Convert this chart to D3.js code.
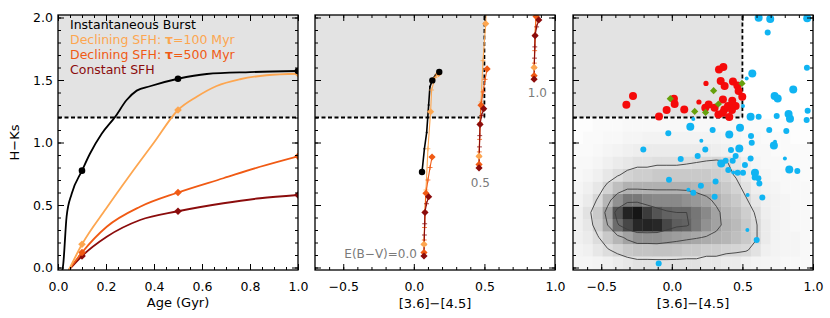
<!DOCTYPE html>
<html>
<head>
<meta charset="utf-8">
<script src="https://cdn.jsdelivr.net/npm/d3@7"></script>
<style>
  body { margin: 0; background: #fff; }
  text { font-family: "DejaVu Sans", sans-serif; }
</style>
</head>
<body>
<div id="chart"></div>
<script>
// ---------------- data ----------------
var ageTicks = [0, 0.2, 0.4, 0.6, 0.8, 1.0];
var colourTicks = [-0.5, 0, 0.5, 1.0];
var hkTicks = [0, 0.5, 1.0, 1.5, 2.0];

var hkCut = 1.2;
var colourCut = 0.5;

var modelNames = ["Instantaneous Burst", "Declining SFH: τ=100 Myr", "Declining SFH: τ=500 Myr", "Constant SFH"];
var modelColours = ["#000000", "#fda650", "#f05a14", "#8b0c0c"];
var markerAges = [0.1, 0.5, 1.0];

// panel 1: H-Ks against age (Gyr)
var burstAge = [0.018, 0.022, 0.036, 0.057, 0.1, 0.133, 0.182, 0.238, 0.286, 0.328, 0.383, 0.5, 0.62, 0.8, 1.0];
var burstHK  = [-0.03, 0.03, 0.41, 0.59, 0.775, 0.91, 1.07, 1.205, 1.34, 1.415, 1.45, 1.51, 1.548, 1.563, 1.572];
var tau100Age = [0.045, 0.1, 0.2, 0.3, 0.4, 0.5, 0.578, 0.661, 0.758, 0.869, 1.0];
var tau100HK  = [-0.02, 0.186, 0.47, 0.74, 1.0, 1.26, 1.366, 1.452, 1.506, 1.538, 1.55];
var tau500Age = [0.045, 0.1, 0.203, 0.342, 0.5, 0.689, 0.842, 1.0];
var tau500HK  = [-0.02, 0.12, 0.326, 0.486, 0.60, 0.714, 0.806, 0.89];
var constAge = [0.045, 0.1, 0.203, 0.342, 0.5, 0.689, 0.842, 1.0];
var constHK  = [-0.02, 0.092, 0.246, 0.38, 0.45, 0.514, 0.554, 0.58];

// panel 2: tracks in [3.6]-[4.5] vs H-Ks at E(B-V)=0 (marks = 0.1, 0.5, 1.0 Gyr)
var burstCol   = [0.058, 0.075, 0.091, 0.105, 0.114, 0.131, 0.150, 0.180];
var burstColHK = [0.764, 0.95, 1.08, 1.30, 1.446, 1.497, 1.535, 1.564];
var burstMarks = [0, 5, 7];
var tau100Col   = [0.072, 0.078, 0.086, 0.100, 0.119, 0.126, 0.150, 0.175];
var tau100ColHK = [0.186, 0.45, 0.62, 0.95, 1.246, 1.42, 1.52, 1.55];
var tau100Marks = [0, 4, 7];
var tau500Col   = [0.072, 0.074, 0.076, 0.080, 0.086, 0.100, 0.115, 0.129];
var tau500ColHK = [0.12, 0.22, 0.32, 0.45, 0.594, 0.70, 0.80, 0.884];
var tau500Marks = [0, 4, 7];
var constCol   = [0.072, 0.073, 0.075, 0.077, 0.079, 0.090, 0.105];
var constColHK = [0.092, 0.18, 0.26, 0.35, 0.44, 0.51, 0.566];
var constMarks = [0, 4, 6];

// reddened copies of the SFH tracks
var ebvValues   = [0.0, 0.5, 1.0];
var ebvShiftCol = [0, 0.39, 0.78];
var ebvShiftHK  = [0, 0.705, 1.415];
var ebvLabels   = ["E(B−V)=0.0", "0.5", "1.0"];
var ebvLabelCol = [0.022, 0.539, 0.943];
var ebvLabelHK  = [0.076, 0.642, 1.362];

// panel 3: observed sources
var redCol  = [-0.322, -0.275, -0.091, -0.037, 0.015, 0.020, 0.088, 0.192, 0.242, 0.237, 0.261, 0.303, 0.334, 0.365, 0.346, 0.374, 0.330, 0.362, 0.372, 0.398, 0.428, 0.433, 0.407, 0.452, 0.464, 0.473, 0.499, 0.362, 0.426, 0.430];
var redHK   = [1.303, 1.372, 1.209, 1.26, 1.351, 1.308, 1.265, 1.324, 1.473, 1.279, 1.305, 1.279, 1.585, 1.604, 1.492, 1.452, 1.225, 1.345, 1.265, 1.292, 1.335, 1.489, 1.204, 1.292, 1.457, 1.412, 1.367, 1.239, 1.26, 1.305];
var redSize = [2, 2, 2, 2, 2, 2, 2, 1, 1, 2, 2, 2, 2, 2, 2, 2, 2, 2, 2, 2, 2, 2, 2, 2, 2, 2, 2, 2, 2, 2];

var greenCol = [-0.011, 0.162, 0.239, 0.296, 0.330, 0.497];
var greenHK  = [1.351, 1.249, 1.241, 1.415, 1.308, 1.473];

var blueCol  = [0.615, 0.697, 0.959, 0.679, 0.957, 0.570, 0.530, 0.860, 0.728, 0.750, 0.962, 0.827, 0.837, 0.955, 0.743, 0.615, 0.558, 0.504, 0.152, 0.131, -0.025, 0.289, 0.407, 0.483, 0.690, 0.811, 0.561, 0.209, 0.566, 0.723, 0.731, -0.202, 0.237, 0.419, 0.478, 0.183, 0.452, 0.558, 0.063, 0.350, 0.381, 0.431, 0.518, 0.589, 0.613, 0.620, 0.641, 0.400, 0.435, 0.466, 0.504, 0.310, 0.206, 0.117, 0.152, -0.020, 0.303, 0.537, 0.535, 0.601, -0.093, 0.832, 0.889, 0.801, 0.587];
var blueHK   = [1.998, 1.988, 1.994, 1.881, 1.599, 1.553, 1.513, 1.425, 1.372, 1.353, 1.255, 1.228, 1.191, 1.18, 1.212, 1.207, 1.207, 1.292, 1.189, 1.127, 1.074, 1.1, 1.065, 1.119, 1.1, 1.092, 1.052, 1.015, 0.999, 0.977, 1.007, 0.945, 0.945, 0.94, 0.953, 0.892, 0.892, 0.873, 0.868, 0.833, 0.855, 0.855, 0.82, 0.759, 0.714, 0.673, 0.561, 0.78, 0.761, 0.759, 0.759, 0.689, 0.655, 0.623, 0.599, 0.703, 0.567, 0.58, 0.3, 0.22, 0.033, 0.785, 0.772, 0.873, 0.72];
var blueSize = [3, 3, 3, 2, 2, 3, 1, 3, 3, 3, 2, 3, 3, 2, 2, 2, 3, 1, 1, 3, 2, 2, 3, 3, 2, 2, 2, 1, 2, 3, 1, 2, 2, 2, 3, 2, 2, 2, 2, 3, 2, 2, 2, 3, 2, 2, 2, 2, 1, 2, 2, 2, 2, 1, 2, 2, 2, 1, 1, 2, 2, 3, 2, 1, 2];

// panel 3: background source density (rows from H-Ks=-0.01 upward in 0.1 bins, columns from -0.7 in 0.07 bins)
var heatColStart = -0.7, heatColStep = 0.07;
var heatHKStart = -0.01, heatHKStep = 0.1;
var heatRows = [
  [4, 4, 5, 6, 8, 10, 12, 12, 12, 12, 12, 12, 12, 10, 10, 8, 8, 6, 5, 4, 4, 3, 3, 3],
  [5, 6, 10, 14, 18, 22, 24, 24, 25, 25, 24, 22, 22, 20, 20, 18, 17, 16, 12, 6, 5, 4, 4, 3],
  [6, 8, 14, 22, 30, 38, 45, 45, 45, 42, 40, 38, 36, 34, 32, 30, 26, 22, 16, 8, 5, 4, 4, 3],
  [6, 10, 20, 35, 60, 75, 88, 90, 88, 75, 66, 64, 55, 45, 38, 32, 28, 22, 16, 8, 5, 4, 3, 3],
  [6, 12, 22, 40, 70, 90, 95, 80, 70, 64, 62, 62, 56, 48, 38, 30, 26, 20, 14, 7, 5, 4, 3, 3],
  [5, 8, 16, 30, 45, 55, 55, 50, 48, 48, 48, 45, 42, 38, 32, 26, 22, 16, 10, 6, 5, 4, 3, 3],
  [4, 6, 10, 18, 26, 32, 32, 32, 32, 32, 32, 32, 30, 28, 26, 22, 18, 12, 7, 5, 4, 3, 3, 3],
  [3, 4, 6, 10, 14, 18, 20, 20, 22, 22, 22, 22, 22, 22, 20, 18, 14, 8, 5, 4, 3, 3, 3, 2],
  [3, 3, 4, 6, 8, 10, 12, 12, 13, 13, 13, 14, 15, 16, 17, 16, 10, 6, 4, 3, 3, 2, 2, 2],
  [2, 2, 3, 4, 5, 6, 7, 8, 8, 8, 8, 8, 8, 8, 7, 6, 5, 4, 3, 3, 2, 2, 2, 2],
  [1, 2, 2, 3, 3, 4, 4, 5, 5, 5, 5, 5, 5, 5, 5, 4, 4, 3, 3, 2, 2, 2, 1, 1],
  [1, 1, 2, 2, 2, 3, 3, 3, 3, 3, 3, 3, 3, 3, 3, 3, 3, 2, 2, 2, 1, 1, 1, 1]
];
var contourLevels = [15, 35, 62];

// ---------------- layout ----------------
var svgWidth = 830, svgHeight = 318;
var panelLeft = [58, 315, 573];
var panelWidth = 240;
var plotTop = 15, plotBottom = 270;

var svg = d3.select("#chart").append("svg")
  .attr("width", svgWidth)
  .attr("height", svgHeight);

var y = d3.scaleLinear().domain([-0.02, 2.02]).range([plotBottom, plotTop]);
var xAge = d3.scaleLinear().domain([0, 1]).range([panelLeft[0], panelLeft[0] + panelWidth]);
var xCol2 = d3.scaleLinear().domain([-0.7, 1.0]).range([panelLeft[1], panelLeft[1] + panelWidth]);
var xCol3 = d3.scaleLinear().domain([-0.7, 1.0]).range([panelLeft[2], panelLeft[2] + panelWidth]);

var fmt = d3.format(".1f");
var fontSize = 12.5;

function diamond(r) {
  return "M0," + (-r) + "L" + r + ",0L0," + r + "L" + (-r) + ",0Z";
}

// clip each panel
panelLeft.forEach(function(px, i) {
  svg.append("clipPath").attr("id", "clip" + i)
    .append("rect").attr("x", px).attr("y", plotTop).attr("width", panelWidth).attr("height", plotBottom - plotTop);
});

// shaded selection box + dashed cut
function drawCut(g, xs, fullWidth) {
  var xRight = fullWidth ? xs.range()[1] : xs(colourCut);
  g.append("rect")
    .attr("x", xs.range()[0]).attr("y", plotTop)
    .attr("width", xRight - xs.range()[0]).attr("height", y(hkCut) - plotTop)
    .attr("fill", "#e3e3e3");
}
function drawCutLines(g, xs, fullWidth) {
  var xRight = fullWidth ? xs.range()[1] : xs(colourCut);
  g.append("line")
    .attr("x1", xs.range()[0]).attr("x2", xRight)
    .attr("y1", y(hkCut)).attr("y2", y(hkCut))
    .attr("stroke", "#000").attr("stroke-width", 1.8).attr("stroke-dasharray", "4,2.5");
  if (!fullWidth) {
    g.append("line")
      .attr("x1", xRight).attr("x2", xRight)
      .attr("y1", y(hkCut)).attr("y2", plotTop)
      .attr("stroke", "#000").attr("stroke-width", 1.8).attr("stroke-dasharray", "4,2.5");
  }
}

// frame with inward ticks on all four sides
function drawFrame(xs, xMajor, xMinor, showY) {
  var g = svg.append("g");
  var yMinor = d3.range(0, 2.001, 0.1);
  function style(sel) {
    sel.select(".domain").remove();
    sel.selectAll(".tick line").attr("stroke", "#000").attr("stroke-width", 1);
    sel.selectAll("text").attr("font-family", "DejaVu Sans, sans-serif").attr("font-size", fontSize).attr("fill", "#000");
  }
  g.append("g").attr("transform", "translate(0," + plotBottom + ")")
    .call(d3.axisBottom(xs).tickValues(xMinor).tickSize(-3).tickFormat("")).call(style);
  g.append("g").attr("transform", "translate(0," + plotBottom + ")")
    .call(d3.axisBottom(xs).tickValues(xMajor).tickSize(-6).tickPadding(12).tickFormat(fmt)).call(style);
  g.append("g").attr("transform", "translate(0," + plotTop + ")")
    .call(d3.axisTop(xs).tickValues(xMinor).tickSize(-3).tickFormat("")).call(style);
  g.append("g").attr("transform", "translate(0," + plotTop + ")")
    .call(d3.axisTop(xs).tickValues(xMajor).tickSize(-6).tickFormat("")).call(style);
  var x0 = xs.range()[0], x1 = xs.range()[1];
  g.append("g").attr("transform", "translate(" + x0 + ",0)")
    .call(d3.axisLeft(y).tickValues(yMinor).tickSize(-3).tickFormat("")).call(style);
  g.append("g").attr("transform", "translate(" + x0 + ",0)")
    .call(d3.axisLeft(y).tickValues(hkTicks).tickSize(-6).tickPadding(5).tickFormat(showY ? fmt : "")).call(style);
  g.append("g").attr("transform", "translate(" + x1 + ",0)")
    .call(d3.axisRight(y).tickValues(yMinor).tickSize(-3).tickFormat("")).call(style);
  g.append("g").attr("transform", "translate(" + x1 + ",0)")
    .call(d3.axisRight(y).tickValues(hkTicks).tickSize(-6).tickFormat("")).call(style);
  g.append("rect")
    .attr("x", x0).attr("y", plotTop).attr("width", x1 - x0).attr("height", plotBottom - plotTop)
    .attr("fill", "none").attr("stroke", "#000").attr("stroke-width", 1.3);
}

// ---------------- panel 1 ----------------
var p1 = svg.append("g").attr("clip-path", "url(#clip0)");
drawCut(p1, xAge, true);
drawCutLines(p1, xAge, true);

var ageModels = [
  { age: burstAge, hk: burstHK, colour: modelColours[0] },
  { age: tau100Age, hk: tau100HK, colour: modelColours[1] },
  { age: tau500Age, hk: tau500HK, colour: modelColours[2] },
  { age: constAge, hk: constHK, colour: modelColours[3] }
];
var ageLine = d3.line().curve(d3.curveMonotoneX)
  .x(d => xAge(d[0])).y(d => y(d[1]));

// draw back to front: constant, tau500, tau100, burst
[3, 2, 1, 0].forEach(function(i) {
  var m = ageModels[i];
  var pts = m.age.map((a, k) => [a, m.hk[k]]);
  p1.append("path").datum(pts)
    .attr("d", ageLine)
    .attr("fill", "none").attr("stroke", m.colour).attr("stroke-width", 1.8);
  var marks = pts.filter(p => markerAges.indexOf(p[0]) >= 0);
  if (i === 0) {
    p1.selectAll(null).data(marks).enter().append("circle")
      .attr("cx", d => xAge(d[0])).attr("cy", d => y(d[1])).attr("r", 3.3)
      .attr("fill", m.colour);
  } else {
    p1.selectAll(null).data(marks).enter().append("path")
      .attr("transform", d => "translate(" + xAge(d[0]) + "," + y(d[1]) + ")")
      .attr("d", diamond(3.8)).attr("fill", m.colour);
  }
});

// legend
var legend = svg.append("g");
modelNames.forEach(function(name, i) {
  var t = legend.append("text")
    .attr("x", 70).attr("y", 29 + i * 15)
    .attr("font-size", 12.5).attr("fill", modelColours[i]);
  var parts = name.split("τ");
  t.append("tspan").text(parts[0]);
  if (parts.length > 1) {
    t.append("tspan").attr("font-weight", "bold").text("τ");
    t.append("tspan").text(parts[1]);
  }
});

drawFrame(xAge, ageTicks, d3.range(0, 1.001, 0.05), true);

// ---------------- panel 2 ----------------
var p2 = svg.append("g").attr("clip-path", "url(#clip1)");
drawCut(p2, xCol2, false);
drawCutLines(p2, xCol2, false);

var colTracks = [
  { col: burstCol, hk: burstColHK, marks: burstMarks, colour: modelColours[0] },
  { col: tau100Col, hk: tau100ColHK, marks: tau100Marks, colour: modelColours[1] },
  { col: tau500Col, hk: tau500ColHK, marks: tau500Marks, colour: modelColours[2] },
  { col: constCol, hk: constColHK, marks: constMarks, colour: modelColours[3] }
];
var colLine2 = d3.line().x(d => xCol2(d[0])).y(d => y(d[1]));
var plus = d3.symbol().type(d3.symbolPlus).size(9);

ebvValues.forEach(function(ebv, e) {
  [0, 1, 2, 3].forEach(function(i) {
    if (i === 0 && e > 0) return;   // burst track only shown unreddened
    var t = colTracks[i];
    var pts = t.col.map((c, k) => [c + ebvShiftCol[e], t.hk[k] + ebvShiftHK[e]]);
    p2.append("path").datum(pts)
      .attr("d", colLine2)
      .attr("fill", "none").attr("stroke", t.colour).attr("stroke-width", i === 0 ? 1.6 : 1.1);
    var inner = pts.filter((p, k) => t.marks.indexOf(k) < 0);
    if (i === 0) {
      p2.selectAll(null).data(inner).enter().append("circle")
        .attr("cx", d => xCol2(d[0])).attr("cy", d => y(d[1])).attr("r", 1)
        .attr("fill", t.colour);
    } else {
      p2.selectAll(null).data(inner).enter().append("path")
        .attr("transform", d => "translate(" + xCol2(d[0]) + "," + y(d[1]) + ")")
        .attr("d", plus).attr("fill", "none").attr("stroke", t.colour).attr("stroke-width", 0.8);
    }
  });
  // markers drawn after lines: light orange, orange, dark red, then burst
  [1, 2, 3, 0].forEach(function(i) {
    if (i === 0 && e > 0) return;
    var t = colTracks[i];
    var marks = t.marks.map(k => [t.col[k] + ebvShiftCol[e], t.hk[k] + ebvShiftHK[e]]);
    if (i === 0) {
      p2.selectAll(null).data(marks).enter().append("circle")
        .attr("cx", d => xCol2(d[0])).attr("cy", d => y(d[1])).attr("r", 3.2)
        .attr("fill", t.colour);
    } else {
      p2.selectAll(null).data(marks).enter().append("path")
        .attr("transform", d => "translate(" + xCol2(d[0]) + "," + y(d[1]) + ")")
        .attr("d", diamond(3.6)).attr("fill", t.colour);
    }
  });
  p2.append("text")
    .attr("x", xCol2(ebvLabelCol[e])).attr("y", y(ebvLabelHK[e]))
    .attr("text-anchor", "end").attr("font-size", 12).attr("fill", "#7a7a7a")
    .text(ebvLabels[e]);
});

drawFrame(xCol2, colourTicks, d3.range(-0.7, 1.001, 0.1), false);

// ---------------- panel 3 ----------------
var p3 = svg.append("g").attr("clip-path", "url(#clip2)");
var nCols = heatRows[0].length, nRows = heatRows.length;
var grey = d3.scaleLinear().domain([0, 100]).range(["#ffffff", "#0a0a0a"]);
var cells = [];
heatRows.forEach(function(row, j) {
  row.forEach(function(v, i) { cells.push({ i: i, j: j, v: v }); });
});
p3.selectAll(null).data(cells).enter().append("rect")
  .attr("x", d => xCol3(heatColStart + d.i * heatColStep))
  .attr("y", d => y(heatHKStart + (d.j + 1) * heatHKStep))
  .attr("width", d => xCol3(heatColStart + (d.i + 1) * heatColStep) - xCol3(heatColStart + d.i * heatColStep) + 0.3)
  .attr("height", d => y(heatHKStart + d.j * heatHKStep) - y(heatHKStart + (d.j + 1) * heatHKStep) + 0.3)
  .attr("fill", d => grey(d.v));

drawCut(p3, xCol3, false);

var flat = [].concat.apply([], heatRows);
var contours = d3.contours().size([nCols, nRows]).thresholds(contourLevels)(flat);
var gridPath = d3.geoPath(d3.geoTransform({
  point: function(gx, gy) {
    this.stream.point(xCol3(heatColStart + gx * heatColStep), y(heatHKStart + gy * heatHKStep));
  }
}));
p3.selectAll(null).data(contours).enter().append("path")
  .attr("d", gridPath)
  .attr("fill", "none").attr("stroke", "#3c3c3c").attr("stroke-width", 0.9);

drawCutLines(p3, xCol3, false);

var blueR = [0, 2.0, 3.0, 4.0];
p3.selectAll(null).data(blueCol.map((c, k) => [c, blueHK[k], blueSize[k]])).enter().append("circle")
  .attr("cx", d => xCol3(d[0])).attr("cy", d => y(d[1])).attr("r", d => blueR[d[2]])
  .attr("fill", "#10b4f2");

var redR = [0, 2.6, 4.0];
p3.selectAll(null).data(redCol.map((c, k) => [c, redHK[k], redSize[k]])).enter().append("circle")
  .attr("cx", d => xCol3(d[0])).attr("cy", d => y(d[1])).attr("r", d => redR[d[2]])
  .attr("fill", "#f50a0a");

p3.selectAll(null).data(greenCol.map((c, k) => [c, greenHK[k]])).enter().append("path")
  .attr("transform", d => "translate(" + xCol3(d[0]) + "," + y(d[1]) + ")")
  .attr("d", diamond(3.6)).attr("fill", "#66a00c");

drawFrame(xCol3, colourTicks, d3.range(-0.7, 1.001, 0.1), false);

// ---------------- axis titles ----------------
svg.append("text")
  .attr("transform", "translate(19," + ((plotTop + plotBottom) / 2) + ") rotate(-90)")
  .attr("text-anchor", "middle").attr("font-size", 13)
  .text("H−Ks");
svg.append("text")
  .attr("x", panelLeft[0] + panelWidth / 2).attr("y", 307)
  .attr("text-anchor", "middle").attr("font-size", 13)
  .text("Age (Gyr)");
[1, 2].forEach(function(i) {
  svg.append("text")
    .attr("x", panelLeft[i] + panelWidth / 2).attr("y", 308)
    .attr("text-anchor", "middle").attr("font-size", 13)
    .text("[3.6]−[4.5]");
});
</script>
</body>
</html>
